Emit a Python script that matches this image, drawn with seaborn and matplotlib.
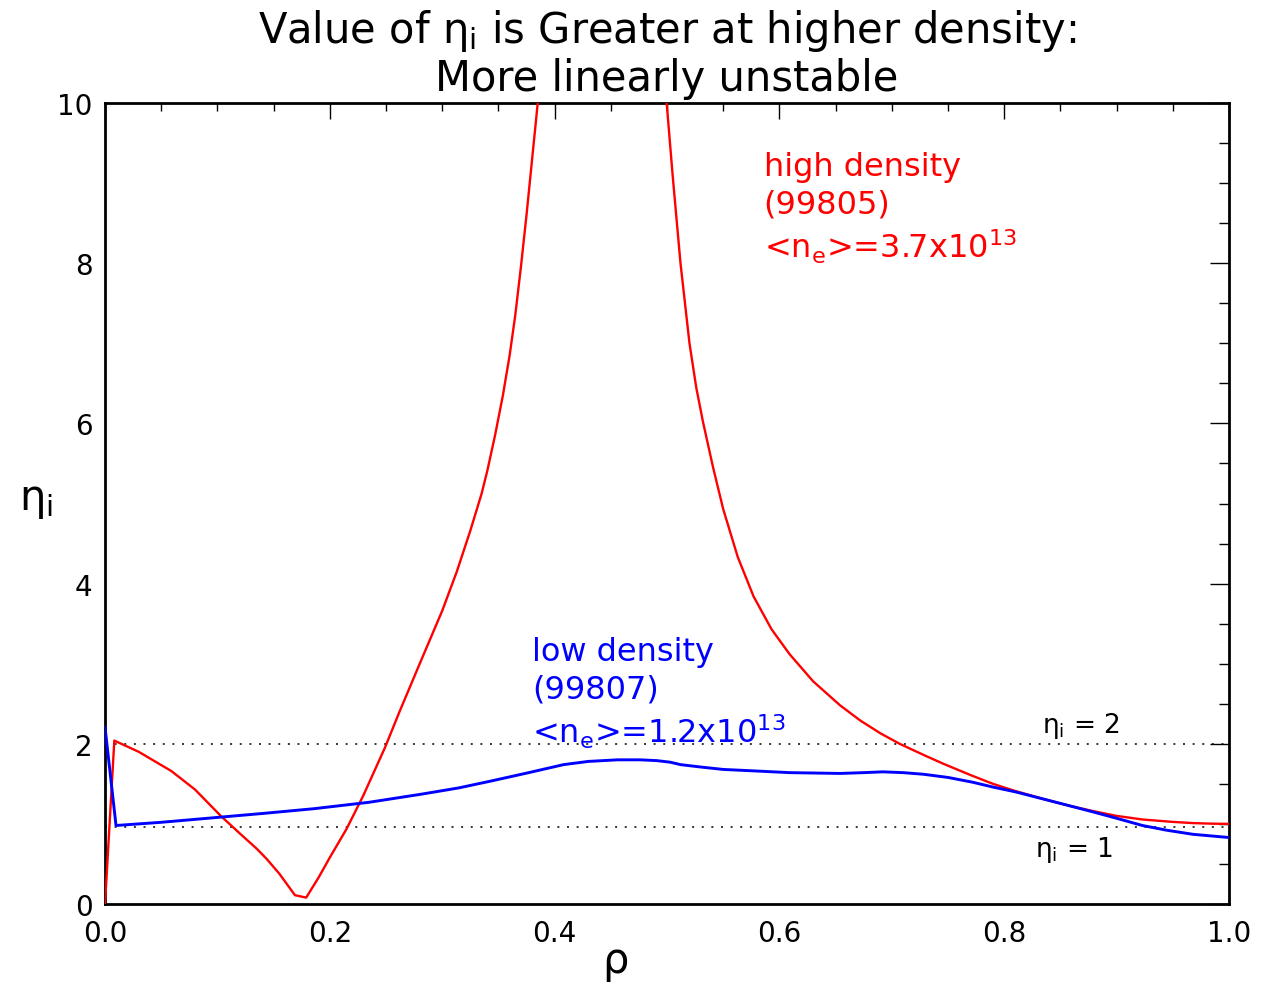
import matplotlib
matplotlib.use("Agg")
import matplotlib.pyplot as plt
import seaborn as sns
import pandas as pd
from matplotlib.ticker import MultipleLocator

# ---- data ----
rho_high = [0.0, 0.0083, 0.03, 0.059, 0.08, 0.103, 0.12, 0.135, 0.144, 0.155,
            0.169, 0.179, 0.19, 0.20, 0.215, 0.23, 0.249, 0.262, 0.28, 0.30,
            0.313, 0.325, 0.335, 0.34, 0.347, 0.354, 0.36, 0.365, 0.37, 0.375,
            0.38, 0.385, 0.39, 0.44, 0.495, 0.4997, 0.505, 0.512, 0.520, 0.526,
            0.532, 0.541, 0.550, 0.563, 0.577, 0.593, 0.609, 0.63, 0.654, 0.672,
            0.690, 0.707, 0.73, 0.746, 0.77, 0.790, 0.81, 0.835, 0.86, 0.879,
            0.90, 0.923, 0.95, 0.968, 0.985, 1.0]
eta_high = [0.0, 2.04, 1.90, 1.66, 1.43, 1.10, 0.88, 0.69, 0.56, 0.38,
            0.11, 0.08, 0.33, 0.58, 0.94, 1.36, 1.95, 2.40, 3.0, 3.66,
            4.15, 4.66, 5.12, 5.40, 5.85, 6.35, 6.85, 7.35, 7.95, 8.6,
            9.3, 10.0, 10.75, 20.0, 10.7, 10.0, 9.1, 8.0, 7.0, 6.45,
            6.02, 5.45, 4.93, 4.33, 3.84, 3.43, 3.12, 2.78, 2.48, 2.29,
            2.13, 2.0, 1.85, 1.75, 1.61, 1.50, 1.41, 1.31, 1.22, 1.16,
            1.10, 1.055, 1.025, 1.01, 1.003, 1.0]

rho_low = [0.0, 0.0098, 0.05, 0.091, 0.14, 0.186, 0.235, 0.281, 0.315, 0.345,
           0.377, 0.408, 0.43, 0.456, 0.476, 0.491, 0.503, 0.512, 0.53, 0.550,
           0.58, 0.609, 0.654, 0.675, 0.692, 0.71, 0.728, 0.75, 0.772, 0.790,
           0.81, 0.835, 0.857, 0.879, 0.90, 0.923, 0.945, 0.968, 1.0]
eta_low = [2.21, 0.98, 1.02, 1.07, 1.13, 1.19, 1.27, 1.37, 1.45, 1.54,
           1.64, 1.74, 1.78, 1.80, 1.80, 1.79, 1.77, 1.74, 1.71, 1.68,
           1.66, 1.64, 1.63, 1.64, 1.65, 1.64, 1.62, 1.58, 1.52, 1.46,
           1.40, 1.31, 1.23, 1.15, 1.07, 0.98, 0.92, 0.87, 0.83]

ref_levels = [2.0, 0.96]
ref_labels = [r"$\mathregular{\eta_i}$ = 2", r"$\mathregular{\eta_i}$ = 1"]

high_label = ["high density", "(99805)", r"<n$\mathregular{_e}$>=3.7x10$\mathregular{^{13}}$"]
low_label = ["low density", "(99807)", r"<n$\mathregular{_e}$>=1.2x10$\mathregular{^{13}}$"]

x_ticks = [0.0, 0.2, 0.4, 0.6, 0.8, 1.0]
y_ticks = [0, 2, 4, 6, 8, 10]

# ---- plotting ----
sns.set_style("white")
plt.rcParams["font.family"] = ["DejaVu Sans"]
plt.rcParams["text.color"] = "black"
plt.rcParams["axes.labelcolor"] = "black"

W, H = 1273, 987
fig = plt.figure(figsize=(W / 100, H / 100), dpi=100)
ax = fig.add_axes([105 / W, 1 - 905 / H, (1229 - 105) / W, (905 - 104) / H])

df_high = pd.DataFrame({"rho": rho_high, "eta": eta_high})
df_low = pd.DataFrame({"rho": rho_low, "eta": eta_low})

for lvl in ref_levels:
    ax.axhline(lvl, color="black", lw=1.1, linestyle=(0, (1.3, 5.0)), zorder=1)

sns.lineplot(data=df_high, x="rho", y="eta", color="#ff0000", lw=1.7,
             sort=False, estimator=None, ax=ax, zorder=3)
sns.lineplot(data=df_low, x="rho", y="eta", color="#0000ff", lw=2.1,
             sort=False, estimator=None, ax=ax, zorder=3)

ax.set_xlim(0, 1)
ax.set_ylim(0, 10)
ax.set_xticks(x_ticks)
ax.set_xticklabels([f"{v:.1f}" for v in x_ticks])
ax.set_yticks(y_ticks)
ax.set_yticklabels([str(v) for v in y_ticks])
ax.xaxis.set_minor_locator(MultipleLocator(0.05))
ax.yaxis.set_minor_locator(MultipleLocator(0.5))
ax.tick_params(axis="both", which="both", direction="in", top=True, right=True,
               colors="black", labelsize=20)
ax.tick_params(axis="x", which="major", length=11.5, width=1.0, pad=11)
ax.tick_params(axis="x", which="minor", length=5.8, width=1.0)
ax.tick_params(axis="y", which="major", length=14, width=1.0, pad=9)
ax.tick_params(axis="y", which="minor", length=7, width=1.0)
for s in ax.spines.values():
    s.set_visible(True)
    s.set_color("black")
    s.set_linewidth(2.0)
ax.set_xlabel("")
ax.set_ylabel("")

# annotations
ax.text(0.586, 9.40, "\n".join(high_label), color="#ff0000", fontsize=23,
        ha="left", va="top", linespacing=1.25)
ax.text(0.380, 3.34, "\n".join(low_label), color="#0000ff", fontsize=23,
        ha="left", va="top", linespacing=1.25)
ax.text(0.834, 2.23, ref_labels[0], color="black", fontsize=19, ha="left", va="center")
ax.text(0.827, 0.69, ref_labels[1], color="black", fontsize=19, ha="left", va="center")

# titles and axis labels
fig.text(667 / W, 1 - 31 / H, r"Value of $\mathregular{\eta_i}$ is Greater at higher density:",
         fontsize=30, ha="center", va="center", color="black")
fig.text(667 / W, 1 - 79 / H, "More linearly unstable", fontsize=30, ha="center",
         va="center", color="black")
fig.text(615 / W, 1 - 963 / H, r"$\mathregular{\rho}$", fontsize=30, ha="center",
         va="center", color="black")
fig.text(36 / W, 1 - 500 / H, r"$\mathregular{\eta_i}$", fontsize=30, ha="center",
         va="center", color="black")

fig.savefig("out.png", dpi=100, facecolor="white")
